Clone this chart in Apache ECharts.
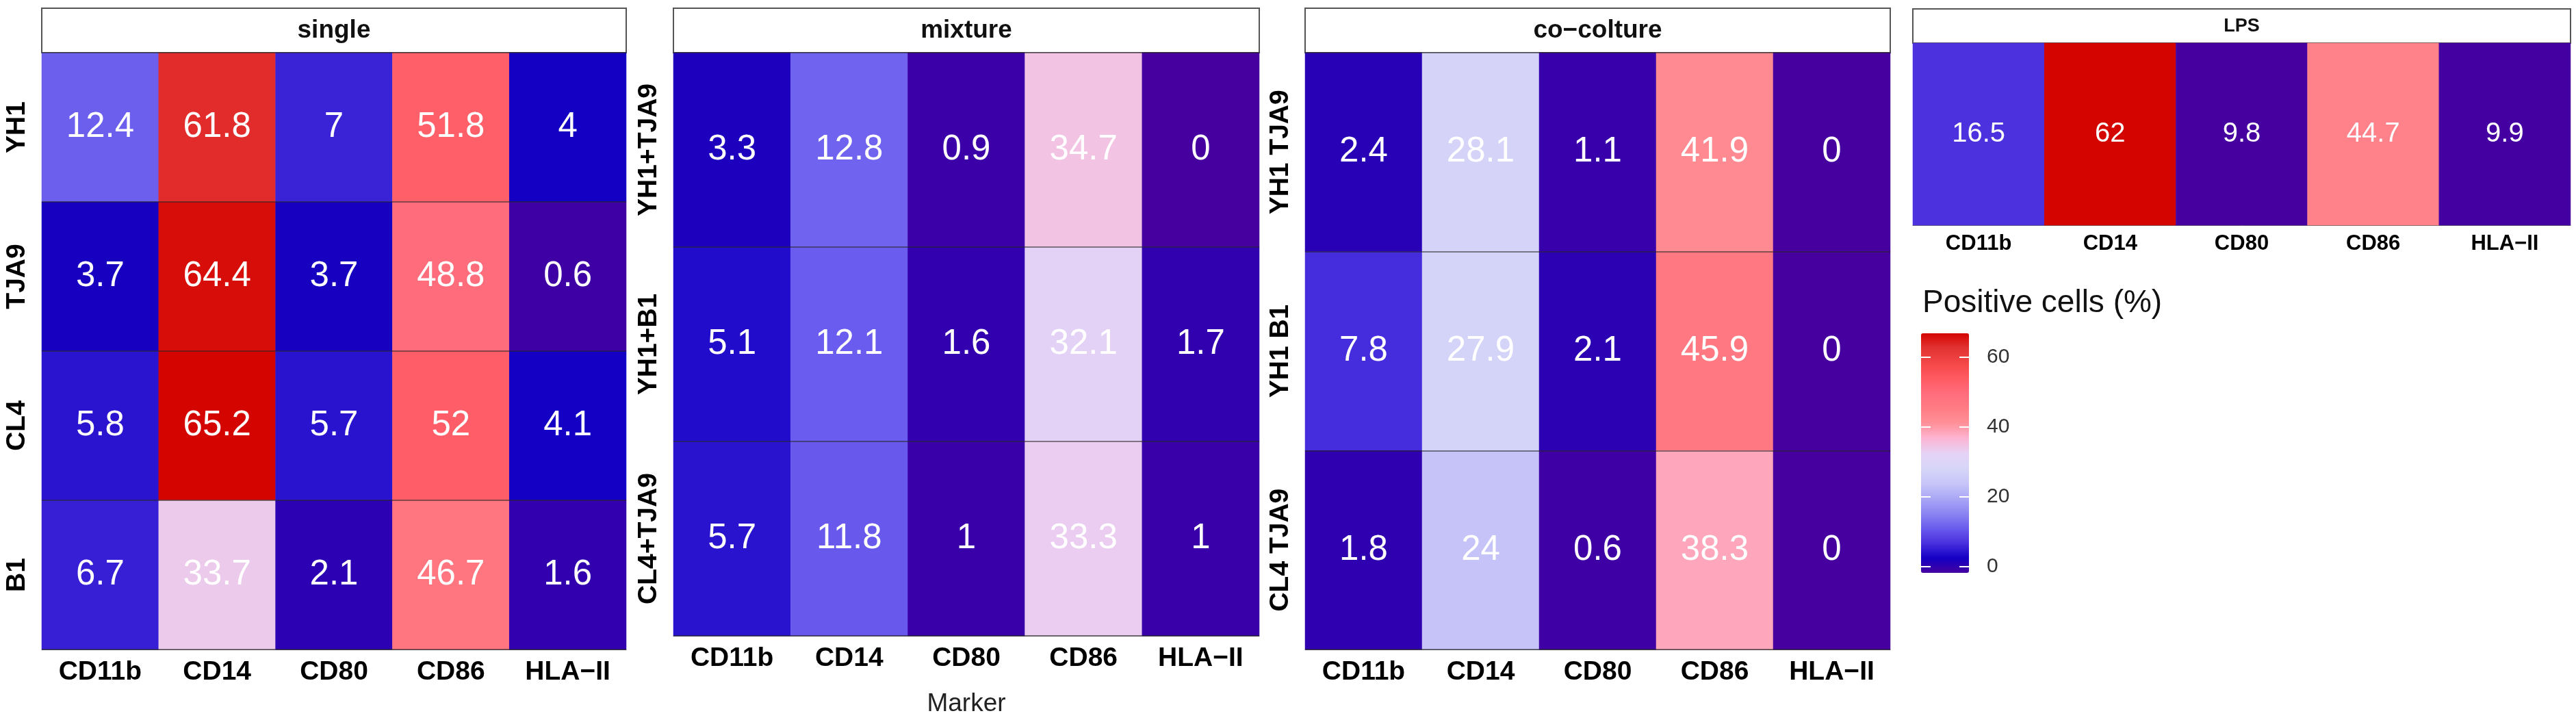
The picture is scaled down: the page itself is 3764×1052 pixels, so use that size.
<!DOCTYPE html>
<html>
<head>
<meta charset="utf-8">
<script src="https://cdn.jsdelivr.net/npm/echarts@6/dist/echarts.min.js"></script>
<style>
  html, body { margin: 0; padding: 0; background: #fff; }
  #main { width: 3764px; height: 1052px; }
</style>
</head>
<body>
<div id="main"></div>
<script>
// data
var markers = ['CD11b', 'CD14', 'CD80', 'CD86', 'HLA-II'];
var panelNames = ['single', 'mixture', 'co-colture'];

var singleRows = ['YH1', 'TJA9', 'CL4', 'B1'];
var singleValues = [
  [12.4, 61.8, 7, 51.8, 4],
  [3.7, 64.4, 3.7, 48.8, 0.6],
  [5.8, 65.2, 5.7, 52, 4.1],
  [6.7, 33.7, 2.1, 46.7, 1.6]
];

var mixtureRows = ['YH1+TJA9', 'YH1+B1', 'CL4+TJA9'];
var mixtureValues = [
  [3.3, 12.8, 0.9, 34.7, 0],
  [5.1, 12.1, 1.6, 32.1, 1.7],
  [5.7, 11.8, 1, 33.3, 1]
];

var cocultureRows = ['YH1 TJA9', 'YH1 B1', 'CL4 TJA9'];
var cocultureValues = [
  [2.4, 28.1, 1.1, 41.9, 0],
  [7.8, 27.9, 2.1, 45.9, 0],
  [1.8, 24, 0.6, 38.3, 0]
];

var lpsValues = [16.5, 62, 9.8, 44.7, 9.9];

var colorbarTicks = [0, 20, 40, 60];

// colour ramp, evenly spaced between min and max of each scale
var palette = [
  '#4600a0', '#1300c4', '#4a30de', '#6b5dee', '#8c86f2', '#aba8f6',
  '#c8c6f8', '#d6d6f8', '#e6d2f6', '#fdb4d2', '#ff9098', '#ff7c84',
  '#ff6c7c', '#ff5a62', '#f44646', '#e33434', '#d40400'
];

var FONT = '"Liberation Sans", Arial, sans-serif';

// R draws hyphens in labels as minus signs
function minus(s) { return String(s).replace(/-/g, '\u2212'); }

function toCells(values) {
  var cells = [];
  values.forEach(function (row, yi) {
    row.forEach(function (v, xi) { cells.push([xi, yi, v]); });
  });
  return cells;
}

var boxes = [
  { left: 61, width: 854 },
  { left: 984, width: 856 },
  { left: 1907, width: 855 }
];
var rowSets = [singleRows, mixtureRows, cocultureRows];
var valueSets = [singleValues, mixtureValues, cocultureValues];

var grids = [], xAxes = [], yAxes = [], series = [], graphics = [];

boxes.forEach(function (b, i) {
  grids.push({ left: b.left, top: 77, width: b.width, height: 872 });
  xAxes.push({
    gridIndex: i, type: 'category', data: markers,
    axisLine: { lineStyle: { color: '#666', width: 1 } },
    axisTick: { alignWithLabel: true, length: 9, lineStyle: { color: '#333', width: 2 } },
    axisLabel: { fontFamily: FONT, fontSize: 39, fontWeight: 'bold', color: '#000', margin: 14, formatter: minus },
    name: i === 1 ? 'Marker' : '',
    nameLocation: 'middle', nameGap: 81,
    nameTextStyle: { fontFamily: FONT, fontSize: 37, color: '#222' }
  });
  yAxes.push({
    gridIndex: i, type: 'category', data: rowSets[i], inverse: true, z: 5,
    axisLine: { show: false },
    axisTick: { alignWithLabel: true, length: 9, lineStyle: { color: '#333', width: 2 } },
    axisLabel: { fontFamily: FONT, fontSize: 39, fontWeight: 'bold', color: '#000', rotate: 90, margin: 16 },
    splitLine: { show: true, lineStyle: { color: 'rgba(40,40,40,0.55)', width: 2 } }
  });
  series.push({
    type: 'heatmap', xAxisIndex: i, yAxisIndex: i,
    data: toCells(valueSets[i]),
    label: {
      show: true, color: '#fff', fontFamily: FONT, fontSize: 51,
      formatter: function (p) { return String(p.value[2]); }
    },
    emphasis: { disabled: true }
  });
  graphics.push({
    type: 'rect', shape: { x: b.left, y: 12, width: b.width, height: 65 },
    style: { fill: '#fff', stroke: '#555', lineWidth: 2 }
  });
  graphics.push({
    type: 'text', x: b.left + b.width / 2, y: 45,
    style: { text: minus(panelNames[i]), font: 'bold 37px ' + FONT, fill: '#111', align: 'center', verticalAlign: 'middle' }
  });
});

// LPS panel
grids.push({ left: 2795, top: 63, width: 961, height: 266 });
xAxes.push({
  gridIndex: 3, type: 'category', data: markers,
  axisLine: { lineStyle: { color: '#666', width: 1 } },
  axisTick: { alignWithLabel: true, length: 8, lineStyle: { color: '#333', width: 2 } },
  axisLabel: { fontFamily: FONT, fontSize: 31, fontWeight: 'bold', color: '#000', margin: 12, formatter: minus }
});
yAxes.push({ gridIndex: 3, type: 'category', data: ['LPS'], show: false });
series.push({
  type: 'heatmap', xAxisIndex: 3, yAxisIndex: 3,
  data: toCells([lpsValues]),
  label: {
    show: true, color: '#fff', fontFamily: FONT, fontSize: 40,
    formatter: function (p) { return String(p.value[2]); }
  },
  emphasis: { disabled: true }
});
graphics.push({
  type: 'rect', shape: { x: 2795, y: 13, width: 961, height: 50 },
  style: { fill: '#fff', stroke: '#555', lineWidth: 2 }
});
graphics.push({
  type: 'text', x: 2795 + 961 / 2, y: 39,
  style: { text: 'LPS', font: 'bold 27px ' + FONT, fill: '#111', align: 'center', verticalAlign: 'middle' }
});

// colour bar ticks and labels
grids.push({ left: 2807, top: 495.5, width: 70, height: 332.5 });
xAxes.push({ gridIndex: 4, type: 'value', show: false });
[false, true].forEach(function (labelled) {
  yAxes.push({
    gridIndex: 4, type: 'value', min: 0, max: 65.2, z: 10,
    position: labelled ? 'right' : 'left',
    axisLine: { show: false },
    splitLine: { show: false },
    axisTick: { inside: true, length: 14, customValues: colorbarTicks, lineStyle: { color: '#fff', width: 2 } },
    axisLabel: {
      show: labelled, customValues: colorbarTicks, margin: 26,
      fontFamily: FONT, fontSize: 30, color: '#333'
    }
  });
});
graphics.push({
  type: 'text', x: 2809, y: 443,
  style: { text: 'Positive cells (%)', font: '46px ' + FONT, fill: '#111', align: 'left', verticalAlign: 'middle' }
});

var chart = echarts.init(document.getElementById('main'));
chart.setOption({
  backgroundColor: '#fff',
  animation: false,
  grid: grids,
  xAxis: xAxes,
  yAxis: yAxes,
  visualMap: [
    {
      type: 'continuous', min: 0, max: 65.2, dimension: 2, seriesIndex: [0, 1, 2],
      inRange: { color: palette },
      left: 2807, top: 487, itemWidth: 70, itemHeight: 350, padding: 0,
      calculable: false, hoverLink: false
    },
    {
      type: 'continuous', min: 9.8, max: 62, dimension: 2, seriesIndex: 3,
      inRange: { color: palette }, show: false
    }
  ],
  graphic: graphics,
  series: series
});
</script>
</body>
</html>
